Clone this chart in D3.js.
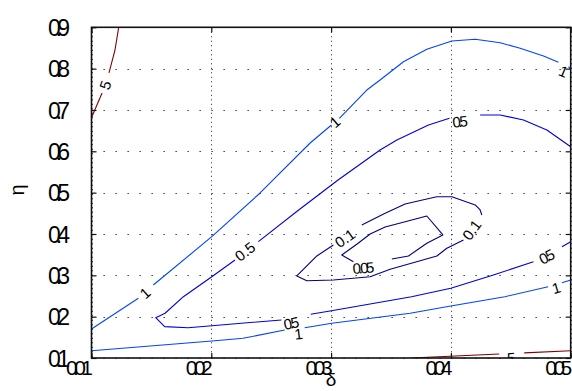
<!DOCTYPE html>
<html>
<head>
<meta charset="utf-8">
<script src="https://cdn.jsdelivr.net/npm/d3@7"></script>
<style>
  html, body { margin: 0; padding: 0; background: #fff; }
  svg { display: block; }
</style>
</head>
<body>
<svg id="chart" width="572" height="391"></svg>
<script>
// Axis ticks
const xTicks = [0.01, 0.02, 0.03, 0.04, 0.05];
const xTickLabels = ["0.01", "0.02", "0.03", "0.04", "0.05"];
const yTicks = [0.1, 0.2, 0.3, 0.4, 0.5, 0.6, 0.7, 0.8, 0.9];
const yTickLabels = ["0.1", "0.2", "0.3", "0.4", "0.5", "0.6", "0.7", "0.8", "0.9"];

// Contour levels
const levels = [0.05, 0.1, 0.5, 1, 5];

// Contour polylines per level, [delta, eta]; each inner array is one drawn piece
const contour005 = [
  [[0.03507, 0.3395], [0.03646, 0.3468], [0.03799, 0.3775], [0.03933, 0.3976], [0.03799, 0.4435],
   [0.03626, 0.4302], [0.03451, 0.4169], [0.03326, 0.4000], [0.03217, 0.3758], [0.03089, 0.3492],
   [0.03186, 0.3330]]
];
const contour01 = [
  [[0.04258, 0.4460], [0.04244, 0.4581], [0.04203, 0.4702], [0.04008, 0.4902], [0.03883, 0.4902],
   [0.03799, 0.4847], [0.03618, 0.4726], [0.03451, 0.4501], [0.03256, 0.4218]],
  [[0.03019, 0.3734], [0.02881, 0.3468], [0.02714, 0.2984], [0.02797, 0.2870], [0.03019, 0.2887],
   [0.03326, 0.2967], [0.03493, 0.3146], [0.03883, 0.3468], [0.03966, 0.3654], [0.04105, 0.3855]]
];
const contour05 = [
  [[0.05000, 0.6112], [0.04801, 0.6516], [0.04606, 0.6758], [0.04411, 0.6879], [0.04244, 0.6879]],
  [[0.03988, 0.6799], [0.03813, 0.6637], [0.03549, 0.6274], [0.03409, 0.6032], [0.03058, 0.5306],
   [0.02724, 0.4568], [0.02393, 0.3814]],
  [[0.02198, 0.3371], [0.02004, 0.2967], [0.01767, 0.2483], [0.01614, 0.2082], [0.01536, 0.1975],
   [0.01611, 0.1758], [0.01806, 0.1733], [0.02006, 0.1782], [0.02585, 0.1920]],
  [[0.02830, 0.2058], [0.03003, 0.2145], [0.03671, 0.2483], [0.03999, 0.2687], [0.04355, 0.3008],
   [0.04689, 0.3330]],
  [[0.04927, 0.3693], [0.05000, 0.3814]]
];
const contour1 = [
  [[0.01000, 0.1700], [0.01391, 0.2445]],
  [[0.01516, 0.2766], [0.02004, 0.3935], [0.02407, 0.4992], [0.02825, 0.6201], [0.03003, 0.6637]],
  [[0.03069, 0.6799], [0.03298, 0.7483], [0.03409, 0.7725], [0.03604, 0.8168], [0.03799, 0.8468],
   [0.04008, 0.8669], [0.04203, 0.8710], [0.04411, 0.8627], [0.04578, 0.8492], [0.04773, 0.8306],
   [0.04898, 0.8153]],
  [[0.04982, 0.8047], [0.05000, 0.7991]],
  [[0.01000, 0.1177], [0.02006, 0.1412], [0.02265, 0.1477], [0.02613, 0.1678]],
  [[0.02780, 0.1733], [0.03006, 0.1840], [0.03660, 0.2082], [0.03999, 0.2258], [0.04450, 0.2483],
   [0.04812, 0.2725]],
  [[0.04927, 0.2822], [0.05000, 0.2887]]
];
const contour5 = [
  [[0.01227, 0.9000], [0.01196, 0.8450], [0.01146, 0.7895]],
  [[0.01088, 0.7411], [0.01000, 0.6810]],
  [[0.03668, 0.1000], [0.04403, 0.1095]],
  [[0.04612, 0.1124], [0.05000, 0.1177]]
];

// Inline contour labels: [level, delta, eta]
const contourLabels = [
  [5, 0.01117, 0.7604], [5, 0.04503, 0.1000],
  [1, 0.01447, 0.2573], [1, 0.03033, 0.6709], [1, 0.04940, 0.7926],
  [1, 0.02729, 0.1581], [1, 0.04879, 0.2694],
  [0.5, 0.02282, 0.3572], [0.5, 0.04077, 0.6716], [0.5, 0.02668, 0.1840], [0.5, 0.04801, 0.3451],
  [0.1, 0.03117, 0.3896], [0.1, 0.04175, 0.4097],
  [0.05, 0.03270, 0.3178]
];

const contourSets = new Map([
  [0.05, contour005], [0.1, contour01], [0.5, contour05], [1, contour1], [5, contour5]
]);

// ---- layout ----
const FONT = '"Liberation Sans", Arial, Helvetica, sans-serif';
const svg = d3.select("#chart");
const x = d3.scaleLinear().domain([0.01, 0.05]).range([91.5, 570.7]);
const y = d3.scaleLinear().domain([0.1, 0.9]).range([358, 27.3]);
const [x0, x1] = x.range();
const [y0, y1] = y.range();

// jet colormap across the level range
function jet(t) {
  const c = v => Math.max(0, Math.min(1, v));
  const r = c(Math.min(4 * t - 1.5, -4 * t + 4.5));
  const g = c(Math.min(4 * t - 0.5, -4 * t + 3.5));
  const b = c(Math.min(4 * t + 0.5, -4 * t + 2.5));
  return d3.rgb(r * 255, g * 255, b * 255).formatHex();
}
const levelT = d3.scaleLinear().domain(d3.extent(levels)).range([0, 1]);
const levelColor = lv => jet(levelT(lv));

svg.append("defs").append("clipPath").attr("id", "plotClip")
  .append("rect").attr("x", x0).attr("y", y1).attr("width", x1 - x0).attr("height", y0 - y1);

// ---- grid ----
const grid = svg.append("g").attr("stroke", "#222").attr("stroke-width", 1);
grid.selectAll("line.h").data(yTicks).join("line").attr("class", "h")
  .attr("x1", x0).attr("x2", x1)
  .attr("y1", d => Math.round(y(d)) + 0.5).attr("y2", d => Math.round(y(d)) + 0.5)
  .attr("stroke-dasharray", "1.3,10.7");
grid.selectAll("line.v").data(xTicks).join("line").attr("class", "v")
  .attr("x1", d => Math.round(x(d)) + 0.5).attr("x2", d => Math.round(x(d)) + 0.5)
  .attr("y1", y1).attr("y2", y0)
  .attr("stroke-dasharray", "1,3.5");

// ---- contour lines ----
const line = d3.line().x(d => x(d[0])).y(d => y(d[1]));
const plot = svg.append("g").attr("clip-path", "url(#plotClip)");
levels.forEach(lv => {
  plot.append("g")
    .attr("fill", "none")
    .attr("stroke", levelColor(lv))
    .attr("stroke-width", 1.1)
    .attr("stroke-linejoin", "round")
    .selectAll("path").data(contourSets.get(lv)).join("path")
    .attr("d", line);
});

// label orientation follows the gap in its contour
function labelAngle(lv, px, py) {
  const pieces = contourSets.get(lv).map(seg => seg.map(p => [x(p[0]), y(p[1])]));
  let a, b;
  if (pieces.length === 1) {
    a = pieces[0][0]; b = pieces[0][pieces[0].length - 1];
  } else {
    const near = pieces.map(seg => {
      const s = seg[0], e = seg[seg.length - 1];
      const ds = Math.hypot(s[0] - px, s[1] - py), de = Math.hypot(e[0] - px, e[1] - py);
      return ds < de ? { p: s, d: ds } : { p: e, d: de };
    }).sort((m, n) => m.d - n.d);
    a = near[0].p; b = near[1].p;
  }
  let ang = Math.atan2(b[1] - a[1], b[0] - a[0]) * 180 / Math.PI;
  if (ang > 90) ang -= 180;
  if (ang <= -90) ang += 180;
  return ang;
}

const labels = plot.append("g")
  .attr("font-family", FONT).attr("font-size", 15).attr("fill", "#000");
contourLabels.forEach(([lv, dx, dy]) => {
  const px = x(dx), py = y(dy);
  const ang = labelAngle(lv, px, py);
  const txt = String(lv);
  const t = labels.append("text")
    .attr("transform", `translate(${px},${py}) rotate(${ang})`)
    .attr("text-anchor", "middle")
    .attr("dy", "0.35em")
    .text(txt);
  if (txt.includes(".") && Math.abs(ang) < 30) {
    const w = t.node().getComputedTextLength();
    t.attr("textLength", w * 0.74).attr("lengthAdjust", "spacing");
  }
});

// ---- axes (ticks point inward) ----
const axB = svg.append("g").attr("transform", `translate(0,${y0})`)
  .call(d3.axisBottom(x).tickValues(xTicks).tickSize(-5).tickFormat((d, i) => xTickLabels[i]));
const axT = svg.append("g").attr("transform", `translate(0,${y1})`)
  .call(d3.axisTop(x).tickValues(xTicks).tickSize(-5).tickFormat(""));
const axL = svg.append("g").attr("transform", `translate(${x0},0)`)
  .call(d3.axisLeft(y).tickValues(yTicks).tickSize(-5).tickFormat((d, i) => yTickLabels[i]));
const axR = svg.append("g").attr("transform", `translate(${x1},0)`)
  .call(d3.axisRight(y).tickValues(yTicks).tickSize(-5).tickFormat(""));
[axB, axT, axL, axR].forEach(g => {
  g.select(".domain").remove();
  g.selectAll(".tick line").attr("stroke", "#111").attr("stroke-width", 1.2);
});

axB.selectAll(".tick text")
  .attr("font-family", FONT).attr("font-size", 21).attr("fill", "#000")
  .attr("text-anchor", "end").attr("x", 1).attr("y", 16.5).attr("dy", null)
  .attr("textLength", 27).attr("lengthAdjust", "spacing");
axL.selectAll(".tick text")
  .attr("font-family", FONT).attr("font-size", 23).attr("fill", "#000")
  .attr("text-anchor", "end").attr("x", 70 - x0).attr("dy", "0.36em")
  .attr("textLength", 22).attr("lengthAdjust", "spacing");

// plot frame
svg.append("rect")
  .attr("x", x0).attr("y", y1).attr("width", x1 - x0).attr("height", y0 - y1)
  .attr("fill", "none").attr("stroke", "#111").attr("stroke-width", 1.6);

// axis titles
svg.append("text")
  .attr("x", 331).attr("y", 386)
  .attr("text-anchor", "middle")
  .attr("font-family", FONT).attr("font-size", 19).attr("fill", "#000")
  .text("δ");
svg.append("text")
  .attr("transform", "translate(24,190) rotate(-90)")
  .attr("text-anchor", "middle")
  .attr("font-family", FONT).attr("font-size", 20).attr("fill", "#000")
  .text("η");
</script>
</body>
</html>
